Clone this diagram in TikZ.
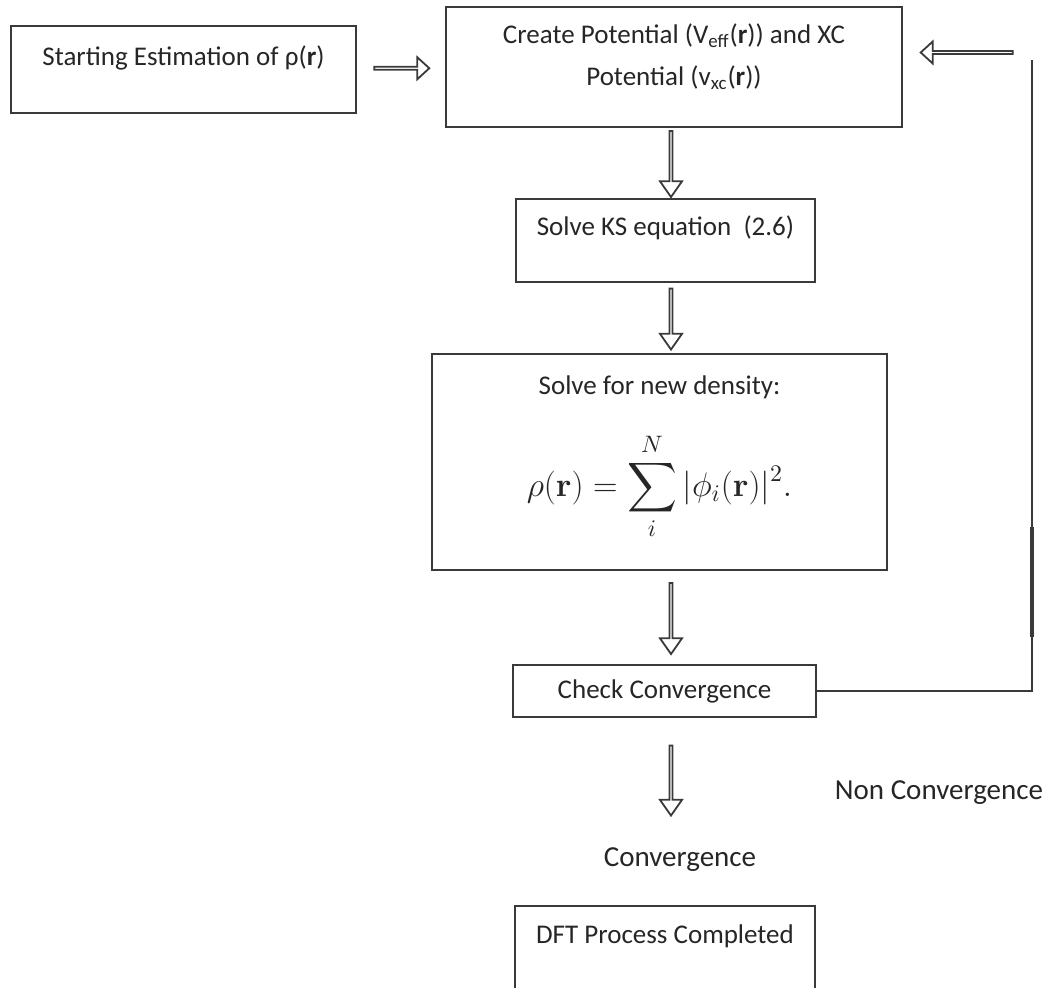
\RequirePackage{fix-cm}
\documentclass[tikz,border=0pt]{standalone}
\usepackage{exscale}
\usepackage[no-math]{fontspec}
\setmainfont{Carlito}
\usetikzlibrary{shapes.arrows,calc}
\definecolor{flowLine}{HTML}{3A3A3A}
\definecolor{flowText}{HTML}{262626}

\begin{document}
\begin{tikzpicture}[x=0.5pt, y=-0.5pt,
    every node/.style={font=\fontsize{13.5}{21}\selectfont, text=flowText},
    box/.style={draw=flowLine, line width=1pt, inner sep=3pt, align=center},
    hollow/.style={draw=flowLine, line width=0.9pt, single arrow, inner sep=0pt,
      minimum width=11pt, single arrow head extend=3pt, single arrow tip angle=70},
    bigtext/.style={font=\fontsize{14.5}{17}\selectfont}]
    \useasboundingbox (0,0) rectangle (1046,987);

    % boxes of the loop
    \node[box, minimum width=172.5pt, minimum height=43.5pt, text height=16.5pt, text depth=21pt]
        (start) at (183.5,69.5) {Starting Estimation of ρ(\textbf{r})};
    \node[box, minimum width=228pt, minimum height=60pt, text height=36pt, text depth=18pt]
        (create) at (674,67) {Create Potential (V\textsubscript{eff}(\textbf{r})) and XC\\Potential (v\textsubscript{xc}(\textbf{r}))};
    \node[box, minimum width=149.5pt, minimum height=41.5pt, text height=15pt, text depth=20.5pt]
        (kseq) at (665.5,240.5) {Solve KS equation\ \ (2.6)};
    \node[box, minimum width=227.5pt, minimum height=108pt, text height=68pt, text depth=34pt]
        (density) at (659.5,462) {Solve for new density:\\[16pt]{\fontsize{17}{21}\selectfont$\displaystyle\rho(\mathbf{r})=\sum_{i}^{N}|\phi_i(\mathbf{r})|^2.$}};
    \node[box, minimum width=151.5pt, minimum height=26pt]
        (check) at (664.5,691) {Check Convergence};
    \node[box, minimum width=150pt, minimum height=50pt, text height=15.5pt, text depth=28.5pt]
        (done) at (665,956) {DFT Process Completed};

    \node[bigtext] (nonconv) at (939,793) {Non Convergence};
    \node[bigtext] (conv) at (680,860) {Convergence};

    % hollow arrows
    \coordinate (spine) at (671,0);
    \coordinate (looptop) at (1032,60);
    \coordinate (m23) at ($(create.south)!.5!(kseq.north)$);
    \coordinate (m34) at ($(kseq.south)!.5!(density.north)$);
    \coordinate (m4c) at ($(density.south)!.5!(check.north)$);
    \coordinate (mconv) at ($(check.south)!.5!(conv.north)$);
    \node[hollow, minimum height=27.5pt, single arrow tip angle=85] (a12) at ($(start.east)!.5!(create.west)$) {};
    \node[hollow, rotate=-90, minimum height=33pt] (a23) at (spine |- m23) {};
    \node[hollow, rotate=-90, minimum height=30.5pt] (a34) at (spine |- m34) {};
    \node[hollow, rotate=-90, minimum height=35.5pt] (a4c) at (spine |- m4c) {};
    \node[hollow, rotate=-90, minimum height=35pt] (aconv) at (spine |- mconv) {};
    \node[hollow, rotate=180, minimum height=46pt, single arrow tip angle=85] (aback) at ($(create.east)!.5!(looptop)+(0,-11)$) {};

    % feedback line
    \coordinate (thickA) at (1032,527);
    \coordinate (thickB) at (1032,637);
    \draw[flowLine, line width=0.8pt] (check.east) -- (check.east -| looptop) -- (looptop);
    \draw[flowLine, line width=1.8pt] (thickA) -- (thickB);
\end{tikzpicture}
\end{document}
